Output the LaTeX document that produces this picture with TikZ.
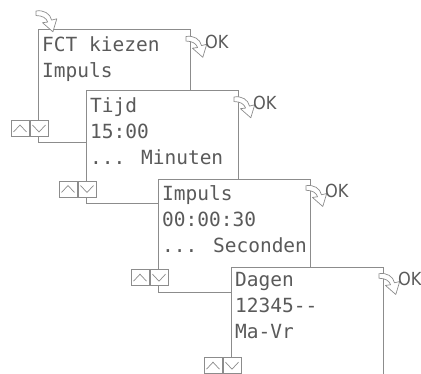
\documentclass[tikz,border=0pt]{standalone}
\usepackage{fontspec}
\newfontfamily\schermfont{DejaVu Sans Mono}
\newfontfamily\okfont{DejaVu Sans Condensed}
\usepackage{tikz}
\usetikzlibrary{calc}
\definecolor{lijngrijs}{HTML}{8C8C8C}
\definecolor{tekstgrijs}{HTML}{5A5A5A}

\begin{document}
\begin{tikzpicture}[x=1pt, y=-1pt,
    lijn/.style={draw=lijngrijs, line width=0.9pt},
    scherm/.style={lijn, fill=white, rectangle, anchor=north west, minimum width=152pt, minimum height=113pt, inner sep=0pt},
    tekst/.style={text=tekstgrijs, font=\schermfont\fontsize{19.5}{26}\selectfont, align=left, anchor=north west, inner sep=0pt},
    ok/.style={text=tekstgrijs, font=\okfont\fontsize{18}{22}\selectfont, inner sep=0pt},
    knoppen/.pic={
        \draw[lijn, fill=white] (-27,91) rectangle (-9,107);
        \draw[lijn, fill=white] (-8,91) rectangle (10,107);
        \draw[lijn, line width=0.7pt] (-24.5,102.5) -- (-18,95.5) -- (-11.5,102.5);
        \draw[lijn, line width=0.7pt] (-5.5,95.5) -- (1,102.5) -- (7.5,95.5);
    },
    pijl/.pic={
        \draw[lijn, line width=0.7pt, fill=white, line join=round]
            (0,0) .. controls (6,-1) and (11,2) .. (12,7) -- (16,6) -- (13,16) -- (5,9) -- (9,8.5)
            .. controls (8,5.5) and (5,3.5) .. (0,3.5) -- cycle;
    },
]
\useasboundingbox (0,0) rectangle (421,374);

% Scherm 1
\node[scherm] (s1) at (38,29.5) {};
\node[tekst] (t1) at ($(s1.north west)+(4,7)$) {FCT kiezen\\Impuls};
\pic at (s1.north west) {knoppen};
\pic[scale=1.3] at ($(s1.north east)+(-5,7)$) {pijl};
\node[ok] (ok1) at ($(s1.north east)+(26,12.5)$) {OK};
\pic[scale=1.3] at (36,11) {pijl};

% Scherm 2
\node[scherm] (s2) at (86,90) {};
\node[tekst] (t2) at ($(s2.north west)+(4,7)$) {Tijd\\15:00\\... Minuten};
\pic at (s2.north west) {knoppen};
\pic[scale=1.3] at ($(s2.north east)+(-5,7)$) {pijl};
\node[ok] (ok2) at ($(s2.north east)+(26,12.5)$) {OK};

% Scherm 3
\node[scherm] (s3) at (158,178.7) {};
\node[tekst] (t3) at ($(s3.north west)+(4,7)$) {Impuls\\00:00:30\\... Seconden};
\pic at (s3.north west) {knoppen};
\pic[scale=1.3] at ($(s3.north east)+(-5,7)$) {pijl};
\node[ok] (ok3) at ($(s3.north east)+(26,12.5)$) {OK};

% Scherm 4
\node[scherm] (s4) at (231,266.7) {};
\node[tekst] (t4) at ($(s4.north west)+(4,5)$) {Dagen\\12345--\\Ma-Vr};
\pic at (s4.north west) {knoppen};
\pic[scale=1.3] at ($(s4.north east)+(-5,7)$) {pijl};
\node[ok] (ok4) at ($(s4.north east)+(26,12.5)$) {OK};

\end{tikzpicture}
\end{document}
